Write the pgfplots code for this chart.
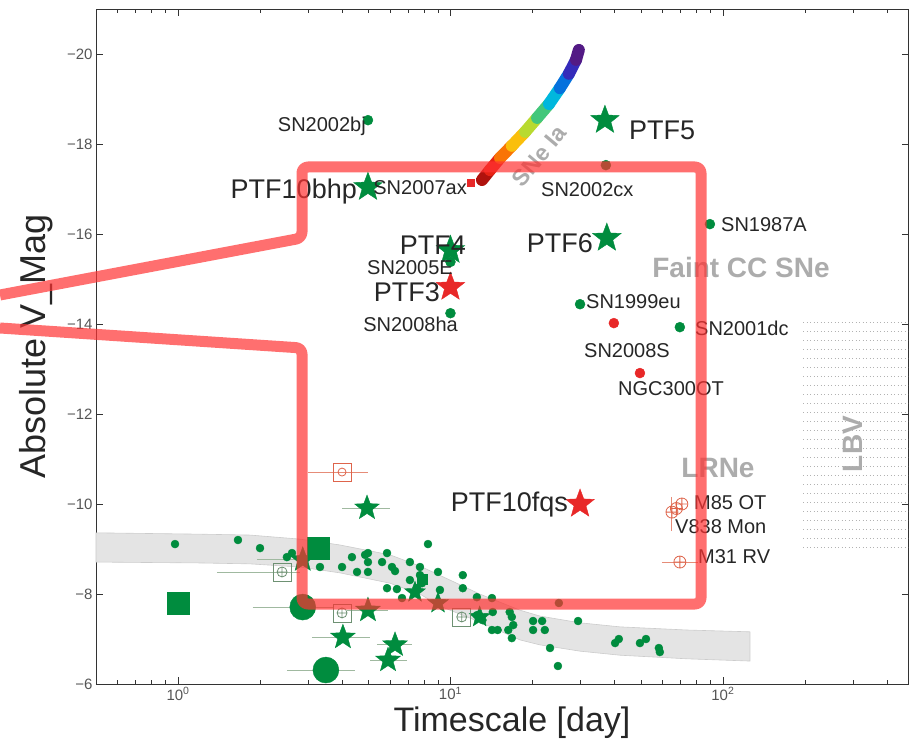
\documentclass[border=0pt]{standalone}
\usepackage{fontspec}
\setmainfont{Liberation Sans}
\usepackage{pgfplots}
\pgfplotsset{compat=1.18}

\definecolor{sgreen}{RGB}{0,140,62}
\definecolor{sred}{RGB}{232,40,40}
\definecolor{lblgray}{RGB}{172,172,172}
\definecolor{ebar}{RGB}{160,185,160}
\definecolor{ebarred}{RGB}{230,140,120}
\definecolor{opengreen}{RGB}{110,145,115}
\definecolor{openred}{RGB}{222,100,75}
\definecolor{hl}{RGB}{255,50,50}
\definecolor{bandgray}{RGB}{228,228,228}
\definecolor{tickgray}{RGB}{85,85,85}

\pgfplotsset{colormap={sneia}{rgb255=(95,20,110) rgb255=(55,40,185) rgb255=(0,120,225)
  rgb255=(0,195,220) rgb255=(90,200,90) rgb255=(245,230,20) rgb255=(255,145,0)
  rgb255=(232,35,20) rgb255=(150,10,10)}}

% filled five-point star
\pgfdeclareplotmark{fstar}{%
  \pgfpathmoveto{\pgfpointpolar{90}{\pgfplotmarksize}}%
  \pgfpathlineto{\pgfpointpolar{126}{0.42*\pgfplotmarksize}}%
  \pgfpathlineto{\pgfpointpolar{162}{\pgfplotmarksize}}%
  \pgfpathlineto{\pgfpointpolar{198}{0.42*\pgfplotmarksize}}%
  \pgfpathlineto{\pgfpointpolar{234}{\pgfplotmarksize}}%
  \pgfpathlineto{\pgfpointpolar{270}{0.42*\pgfplotmarksize}}%
  \pgfpathlineto{\pgfpointpolar{306}{\pgfplotmarksize}}%
  \pgfpathlineto{\pgfpointpolar{342}{0.42*\pgfplotmarksize}}%
  \pgfpathlineto{\pgfpointpolar{18}{\pgfplotmarksize}}%
  \pgfpathlineto{\pgfpointpolar{54}{0.42*\pgfplotmarksize}}%
  \pgfpathclose
  \pgfusepathqfillstroke
}

\newcommand{\fsmall}{\fontsize{20}{20}\selectfont}
\newcommand{\fbig}{\fontsize{27}{27}\selectfont}
\newcommand{\fgray}{\fontsize{28}{28}\selectfont\bfseries}

\begin{document}
\begin{tikzpicture}
\begin{axis}[
  scale only axis, width=812.5pt, height=675pt,
  xmode=log, xmin=0.5, xmax=480,
  ymin=-21, ymax=-6, y dir=reverse,
  xtick={1,10,100},
  xticklabels={10\textsuperscript{0},10\textsuperscript{1},10\textsuperscript{2}},
  minor xtick={0.6,0.7,0.8,0.9,2,3,4,5,6,7,8,9,20,30,40,50,60,70,80,90,200,300,400},
  ytick={-20,-18,-16,-14,-12,-10,-8,-6},
  yticklabels={−20,−18,−16,−14,−12,−10,−8,−6},
  tick align=inside, major tick length=7pt, minor tick length=4pt,
  ticklabel style={font=\fontsize{15}{15}\selectfont, text=tickgray},
  axis line style={black!80, line width=0.8pt},
  every tick/.style={black!80, line width=0.6pt},
  xlabel={Timescale [day]}, ylabel={Absolute V\_Mag},
  label style={text=black!85},
  xlabel style={font=\fontsize{34}{34}\selectfont, at={(ticklabel cs:0.512)}},
  ylabel style={font=\fontsize{36}{36}\selectfont, at={(ticklabel cs:0.5,7pt)}},
  clip=false,
]
\coordinate (TL) at (axis description cs:0,1);
\coordinate (BR) at (axis description cs:1,0);

% grey band
\addplot[fill=bandgray, draw=gray!40, line width=0.6pt] coordinates {
  (0.5,-9.36) (1.204,-9.33) (1.837,-9.31) (2.80,-9.22) (3.93,-9.09) (6.0,-8.87)
  (7.73,-8.62) (9.96,-8.31) (12.8,-8.0) (18.0,-7.64) (21.3,-7.51) (29.9,-7.36)
  (41.9,-7.27) (73.8,-7.2) (125.7,-7.16)
  (125.7,-6.51) (73.8,-6.56) (41.9,-6.64) (29.9,-6.73) (21.3,-6.87) (18.0,-6.98)
  (12.8,-7.38) (9.15,-7.73) (7.73,-8.0) (6.0,-8.24) (3.93,-8.47) (2.80,-8.6)
  (1.837,-8.67) (1.204,-8.69) (0.5,-8.71)
} -- cycle;

% SNe Ia locus
\addplot[mesh, colormap name=sneia, point meta=y, line width=12pt, line cap=round] coordinates {
  (13.05,-17.2) (13.96,-17.42) (15.2,-17.69) (16.8,-17.96) (18.8,-18.27)
  (20.8,-18.58) (23.0,-18.89) (25.2,-19.24) (27.2,-19.56) (28.9,-19.87) (29.6,-20.09)
};

% horizontal error bars
\addplot[ebar, line width=0.9pt] coordinates {(4.0,-9.91) (6.0,-9.91)};
\addplot[ebar, line width=0.9pt] coordinates {(1.95,-8.76) (3.61,-8.76)};
\addplot[ebar, line width=0.9pt] coordinates {(4.17,-7.64) (5.9,-7.64)};
\addplot[ebar, line width=0.9pt] coordinates {(3.1,-7.04) (5.07,-7.04)};
\addplot[ebar, line width=0.9pt] coordinates {(5.37,-6.87) (7.22,-6.87)};
\addplot[ebar, line width=0.9pt] coordinates {(5.07,-6.53) (6.92,-6.53)};
\addplot[ebar, line width=0.9pt] coordinates {(1.88,-7.71) (3.7,-7.71)};
\addplot[ebar, line width=0.9pt] coordinates {(2.51,-6.31) (4.46,-6.31)};
\addplot[ebar, line width=0.9pt] coordinates {(1.39,-8.49) (2.8,-8.49)};
\addplot[ebarred, line width=0.9pt] coordinates {(3.0,-10.71) (4.98,-10.71)};
\addplot[ebarred, line width=0.9pt] coordinates {(59.7,-8.71) (81,-8.71)};
\addplot[ebarred, line width=0.9pt] coordinates {(64,-9.9) (71.5,-9.9)};
\addplot[ebarred, line width=0.9pt] coordinates {(65,-10.16) (65,-9.4)};

% small green dots
\addplot[only marks, mark=*, mark size=4pt, color=sgreen] coordinates {
  (0.975,-9.11) (1.66,-9.2) (2.0,-9.02) (2.51,-8.82) (2.62,-8.91) (3.32,-8.6)
  (4.0,-8.6) (4.35,-8.82) (4.86,-8.87) (4.98,-8.91) (4.98,-8.71) (4.54,-8.49)
  (4.98,-8.49) (5.61,-8.71) (5.85,-8.91) (6.1,-8.6) (6.26,-8.51) (7.1,-8.71)
  (7.73,-8.6) (7.73,-8.42) (8.27,-9.11) (9.0,-8.49) (11.1,-8.42) (5.85,-8.13)
  (6.36,-8.11) (6.64,-7.91) (7.1,-8.31) (7.86,-8.24) (7.54,-8.13) (9.15,-8.09)
  (11.1,-8.13) (12.5,-7.93) (14.2,-7.91) (14.3,-7.6) (16.5,-7.6) (16.8,-7.49)
  (14.2,-7.2) (14.9,-7.2) (16.3,-7.2) (17.0,-7.31) (16.8,-7.02) (20.1,-7.4)
  (21.7,-7.4) (20.1,-7.2) (22.2,-7.2) (29.4,-7.4) (23.2,-6.8) (24.8,-6.4)
  (40.2,-6.91) (41.5,-7.0) (49.6,-6.91) (52.2,-7.0) (58.2,-6.8) (58.7,-6.71)
  (25.0,-7.8) (12.5,-7.53) (13.1,-7.42)
};
% labelled green dots
\addplot[only marks, mark=*, mark size=5pt, color=sgreen] coordinates {
  (4.98,-18.53) (37.2,-17.53) (89.6,-16.22) (10,-15.38) (10,-14.24)
  (29.9,-14.44) (69.5,-13.93)
};
% red dots
\addplot[only marks, mark=*, mark size=5pt, color=sred] coordinates {
  (39.8,-14.02) (49.6,-12.91)
};
% red square SN2007ax
\addplot[only marks, mark=square*, mark size=3.5pt, color=sred] coordinates {(11.9,-17.13)};

% green squares
\addplot[only marks, mark=square*, mark size=11pt, color=sgreen] coordinates {(1.0,-7.8) (3.26,-9.02)};
\addplot[only marks, mark=square*, mark size=5pt, color=sgreen] coordinates {(7.86,-8.33)};

% big green circles
\addplot[only marks, mark=*, mark size=13pt, color=sgreen] coordinates {(2.87,-7.71) (3.49,-6.31)};

% green stars (bottom)
\addplot[only marks, mark=fstar, mark size=13pt, color=sgreen] coordinates {
  (4.94,-9.91) (2.87,-8.76) (4.98,-7.64) (4.03,-7.04) (6.26,-6.87) (5.9,-6.53)
};
\addplot[only marks, mark=fstar, mark size=11pt, color=sgreen] coordinates {
  (7.41,-8.04) (9.0,-7.8) (12.8,-7.49)
};
% labelled stars
\addplot[only marks, mark=fstar, mark size=15pt, color=sgreen] coordinates {
  (36.9,-18.53) (4.98,-17.04) (37.5,-15.91) (10,-15.64)
};
\addplot[only marks, mark=fstar, mark size=15pt, color=sred] coordinates {
  (10,-14.82) (29.9,-10.0)
};

% open squares with circle-plus
\addplot[only marks, mark=square, mark size=9pt, color=opengreen, line width=0.8pt] coordinates {
  (2.41,-8.49) (4.0,-7.58) (11.0,-7.49)
};
\addplot[only marks, mark=oplus, mark size=5pt, color=opengreen, line width=0.8pt] coordinates {
  (2.41,-8.49) (4.0,-7.58) (11.0,-7.49)
};
\addplot[only marks, mark=square, mark size=9pt, color=openred, line width=0.8pt] coordinates {(4.0,-10.71)};
\addplot[only marks, mark=o, mark size=4pt, color=openred, line width=0.8pt] coordinates {(4.0,-10.71)};

% LRNe
\addplot[only marks, mark=oplus, mark size=6pt, color=openred, line width=0.8pt] coordinates {
  (70.7,-10.0) (65.0,-9.82) (67.5,-9.9) (69.5,-8.71)
};
\end{axis}

\begin{scope}[shift={([xshift=-96pt,yshift=9pt]TL)}, x=1pt, y=-1pt]
  % LBV region
  \foreach \yy in {322,331,...,548}
    \draw[gray!60, line width=0.7pt, dash pattern=on 0.7pt off 2.8pt] (803,\yy) -- (908,\yy);

  \begin{scope}[every node/.style={inner sep=0pt, text=black!85}]
    \node[anchor=east, font=\fsmall] at (366,126) {SN2002bj};
    \node[anchor=east, font=\fsmall] at (467,188) {SN2007ax};
    \node[anchor=west, font=\fsmall] at (541,190) {SN2002cx};
    \node[anchor=west, font=\fsmall] at (721,225) {SN1987A};
    \node[anchor=east, font=\fsmall] at (453,268) {SN2005E};
    \node[anchor=east, font=\fsmall] at (458,324) {SN2008ha};
    \node[anchor=west, font=\fsmall] at (586,302) {SN1999eu};
    \node[font=\fsmall] at (627,351) {SN2008S};
    \node[anchor=west, font=\fsmall] at (695,328) {SN2001dc};
    \node[font=\fsmall] at (671,389) {NGC300OT};
    \node[anchor=west, font=\fsmall] at (694,503) {M85 OT};
    \node[anchor=west, font=\fsmall] at (675,527) {V838 Mon};
    \node[anchor=west, font=\fsmall] at (698,557) {M31 RV};

    \node[anchor=east, font=\fbig] at (357,192) {PTF10bhp};
    \node[anchor=west, font=\fbig] at (629,130) {PTF5};
    \node[anchor=east, font=\fbig] at (593,243) {PTF6};
    \node[anchor=east, font=\fbig] at (466,245) {PTF4};
    \node[anchor=east, font=\fbig] at (440,292) {PTF3};
    \node[anchor=east, font=\fbig] at (568,505) {PTF10fqs};

    \node[font=\fgray, text=lblgray] at (741,267) {Faint CC SNe};
    \node[font=\fgray, text=lblgray] at (718,468) {LRNe};
    \node[font=\fgray, text=lblgray, rotate=90] at (853,444) {LBV};
    \node[font=\fontsize{23}{23}\selectfont\bfseries, text=lblgray, rotate=50] at (539,156) {SNe Ia};
  \end{scope}

  % highlight callout
  \draw[hl, opacity=0.7, line width=11pt, rounded corners=6pt, line join=round]
    (0,295) -- (302,238) -- (302,167) -- (701,167) -- (701,604) -- (302,604) -- (302,348) -- (0,328);
\end{scope}

\pgfresetboundingbox
\path[use as bounding box] ([xshift=-96pt,yshift=9pt]TL) rectangle ([xshift=0.5pt,yshift=-71pt]BR);
\end{tikzpicture}
\end{document}
